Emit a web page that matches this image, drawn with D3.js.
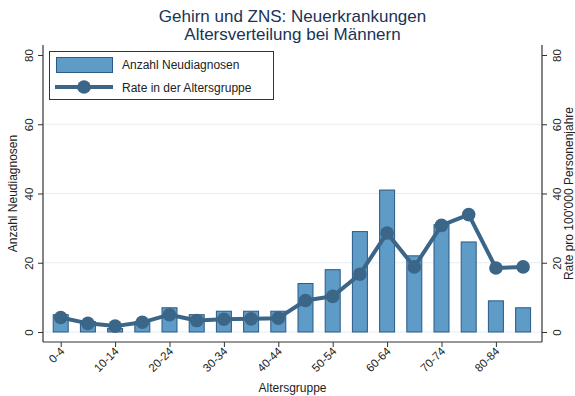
<!DOCTYPE html>
<html>
<head>
<meta charset="utf-8">
<script src="https://cdn.jsdelivr.net/npm/d3@7/dist/d3.min.js"></script>
<style>
  html, body { margin: 0; padding: 0; background: #fff; }
  svg { display: block; font-family: "Liberation Sans", Arial, sans-serif; }
</style>
</head>
<body>
<svg id="chart" width="575" height="396"></svg>
<script>
// Age groups (5-year bands)
const categories = ["0-4","5-9","10-14","15-19","20-24","25-29","30-34","35-39","40-44",
  "45-49","50-54","55-59","60-64","65-69","70-74","75-79","80-84","85+"];
// Number of new diagnoses per age group (left axis)
const counts = [5, 3, 1, 3, 7, 5, 6, 6, 6, 14, 18, 29, 41, 22, 31, 26, 9, 7];
// Rate per 100'000 person-years (right axis)
const rates = [4.2, 2.5, 1.7, 2.8, 5.0, 3.3, 3.7, 3.8, 4.0, 9.1, 10.3, 16.7, 28.6, 18.8, 30.8, 33.9, 18.5, 18.8];
// Axis ticks
const leftTicks = [0, 20, 40, 60, 80];
const rightTicks = [0, 20, 40, 60, 80];
const xTickLabels = ["0-4","10-14","20-24","30-34","40-44","50-54","60-64","70-74","80-84"];

const barFill = "#5e9bc6", barStroke = "#2b5a85", lineColor = "#3b6687";
const titleColor = "#1a3358", textColor = "#222";

const svg = d3.select("#chart");
const plotLeft = 43, plotRight = 542, plotTop = 55, plotBottom = 332, axisY = 342;

const x = d3.scalePoint().domain(categories).range([60.7, 523.1]);
const yL = d3.scaleLinear().domain([0, 80]).range([plotBottom, plotTop]);
const yR = d3.scaleLinear().domain([0, 80]).range([plotBottom, plotTop]);

// Title
const title = svg.append("text").attr("text-anchor", "middle")
  .attr("fill", titleColor).style("font-size", "17px");
title.append("tspan").attr("x", (plotLeft + plotRight) / 2).attr("y", 22).text("Gehirn und ZNS: Neuerkrankungen");
title.append("tspan").attr("x", (plotLeft + plotRight) / 2).attr("y", 39.5).text("Altersverteilung bei Männern");

// Horizontal grid lines
svg.append("g").selectAll("line").data(leftTicks.filter(d => d < 80)).join("line")
  .attr("x1", plotLeft).attr("x2", plotRight)
  .attr("y1", d => yL(d)).attr("y2", d => yL(d))
  .attr("stroke", "#e6edf2").attr("stroke-width", 1.2);

// Bars
const bw = 16;
svg.append("g").selectAll("rect").data(categories).join("rect")
  .attr("x", (d) => x(d) - bw / 2 + 0.5)
  .attr("y", (d, i) => yL(counts[i]))
  .attr("width", bw - 1)
  .attr("height", (d, i) => yL(0) - yL(counts[i]))
  .attr("fill", barFill).attr("stroke", barStroke).attr("stroke-width", 1);

// Rate line with markers
const line = d3.line().x((d, i) => x(categories[i])).y(d => yR(d));
svg.append("path").datum(rates).attr("d", line)
  .attr("fill", "none").attr("stroke", lineColor).attr("stroke-width", 4).attr("stroke-linejoin", "round");
svg.append("g").selectAll("circle").data(rates).join("circle")
  .attr("cx", (d, i) => x(categories[i])).attr("cy", d => yR(d)).attr("r", 6.8)
  .attr("fill", lineColor);

// Left axis
const gL = svg.append("g").attr("transform", `translate(${plotLeft},0)`)
  .call(d3.axisLeft(yL).tickValues(leftTicks).tickSize(5).tickPadding(7));
// Right axis
const gR = svg.append("g").attr("transform", `translate(${plotRight},0)`)
  .call(d3.axisRight(yR).tickValues(rightTicks).tickSize(5).tickPadding(10));
// Bottom axis
const gB = svg.append("g").attr("transform", `translate(0,${axisY})`)
  .call(d3.axisBottom(x).tickValues(xTickLabels).tickSize(5).tickSizeOuter(0));

[gL, gR, gB].forEach(g => {
  g.select(".domain").attr("stroke", "#333").attr("stroke-width", 1.2);
  g.selectAll(".tick line").attr("stroke", "#333");
  g.selectAll("text").attr("fill", textColor).style("font-size", "11.5px")
    .style("font-family", "'Liberation Sans', Arial, sans-serif");
});
// Left/right axis lines span the full plot height
gL.select(".domain").attr("d", `M0,${axisY}V45`);
gR.select(".domain").attr("d", `M0,${axisY}V45`);
gB.select(".domain").attr("d", `M${plotLeft},0H${plotRight}`);

// Rotated y tick labels
gL.selectAll(".tick text").attr("x", null).attr("dy", null)
  .attr("text-anchor", "middle")
  .attr("transform", "translate(-10,0) rotate(-90)").attr("y", 0);
gR.selectAll(".tick text").attr("x", null).attr("dy", null)
  .attr("text-anchor", "middle")
  .attr("transform", "translate(19,0) rotate(-90)").attr("y", 0);

// Rotated x tick labels
gB.selectAll(".tick text").attr("y", null).attr("dy", null)
  .attr("text-anchor", "end")
  .attr("transform", "translate(4,10) rotate(-45)");

// Axis titles
svg.append("text").attr("transform", `translate(17,${(plotTop + plotBottom) / 2}) rotate(-90)`)
  .attr("text-anchor", "middle").attr("fill", textColor).style("font-size", "12px")
  .text("Anzahl Neudiagnosen");
svg.append("text").attr("transform", `translate(573,${(plotTop + plotBottom) / 2}) rotate(-90)`)
  .attr("text-anchor", "middle").attr("fill", textColor).style("font-size", "12px")
  .text("Rate pro 100'000 Personenjahre");
svg.append("text").attr("x", (plotLeft + plotRight) / 2).attr("y", 392)
  .attr("text-anchor", "middle").attr("fill", textColor).style("font-size", "12px")
  .text("Altersgruppe");

// Legend
const lg = svg.append("g");
lg.append("rect").attr("x", 49.5).attr("y", 51.5).attr("width", 224).attr("height", 48)
  .attr("fill", "#fff").attr("stroke", "#333").attr("stroke-width", 1);
lg.append("rect").attr("x", 56.5).attr("y", 57.5).attr("width", 56).attr("height", 15)
  .attr("fill", barFill).attr("stroke", barStroke);
lg.append("line").attr("x1", 55).attr("x2", 113).attr("y1", 87).attr("y2", 87)
  .attr("stroke", lineColor).attr("stroke-width", 4);
lg.append("circle").attr("cx", 84).attr("cy", 87).attr("r", 6.8).attr("fill", lineColor);
lg.append("text").attr("x", 122).attr("y", 69).attr("fill", textColor).style("font-size", "12px")
  .text("Anzahl Neudiagnosen");
lg.append("text").attr("x", 122).attr("y", 91.5).attr("fill", textColor).style("font-size", "12px")
  .text("Rate in der Altersgruppe");
</script>
</body>
</html>
